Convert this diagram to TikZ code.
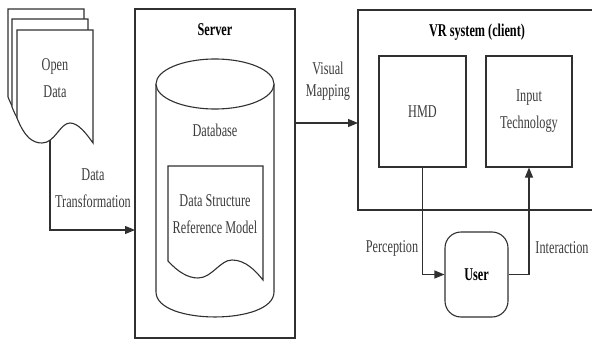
\documentclass[tikz,border=0pt]{standalone}
\usepackage{fontspec}
\setmainfont{Liberation Serif}[FakeStretch=0.68]
\usetikzlibrary{arrows.meta}
\definecolor{ink}{HTML}{303030}
\definecolor{txt}{HTML}{3C3C3C}
\begin{document}
\begin{tikzpicture}[x=1pt,y=-1pt,
  line/.style={draw=ink, line width=1.1pt},
  arr/.style={line, -{Triangle[length=10pt,width=8pt]}},
  lbl/.style={text=txt, font=\fontsize{18}{27}\selectfont, align=center, inner sep=0pt},
  ttl/.style={text=black, font=\fontsize{18}{27}\selectfont\bfseries, align=center, inner sep=0pt},
  box/.style={line, fill=white, inner sep=0pt, text=txt, font=\fontsize{18}{27}\selectfont, align=center}]
\useasboundingbox (0,0) rectangle (592,340);

% stack of open data sheets (back to front)
\foreach \dx/\dy in {-9/-21,-5/-11,0/0}{
  \path[line, fill=white, shift={(\dx,\dy)}]
    (17,30) -- (93,30) -- (93,143)
    .. controls (86,133) and (78,123) .. (70,123)
    .. controls (60,123) and (55,143) .. (42,143)
    .. controls (33,143) and (25,138) .. (17,118) -- cycle;
}
\node[lbl] (opendata) at (55,78) {Open\\Data};

% server frame
\node[box, minimum width=160pt, minimum height=329pt] (server) at (215,173.5) {};
\node[ttl] (servertitle) at (215,30) {Server};

% database cylinder
\draw[line, fill=white] (156,84) -- (156,292)
  .. controls (156,325.3) and (274,325.3) .. (274,292) -- (274,84);
\draw[line, fill=white] (215,84) ellipse [x radius=59, y radius=25];
\node[lbl] (database) at (215,130) {Database};

% reference model document
\path[line, fill=white]
  (168,166) -- (263,166) -- (263,280)
  .. controls (255,270) and (245,260) .. (232,260)
  .. controls (220,260) and (212,278) .. (198,278)
  .. controls (188,278) and (178,272) .. (168,261) -- cycle;
\node[lbl] (refmodel) at (215,214) {Data Structure\\Reference Model};

% data transformation arrow
\coordinate (odsrc) at (50,140);
\coordinate (dtin) at (135,230);
\draw[arr] (odsrc) |- (dtin);
\node[lbl] (dtlabel) at (93,188) {Data\\Transformation};

% VR system frame (runs off the right edge)
\draw[line] (592,10) -- (358,10) -- (358,210) -- (592,210);
\node[ttl] (vrtitle) at (477,32) {VR system (client)};
\coordinate (vrin) at (358,123);

% visual mapping arrow
\draw[arr] (server.east |- vrin) -- (vrin);
\node[lbl, font=\fontsize{18}{22}\selectfont] (vmlabel) at (328,81) {Visual\\Mapping};

% client components
\node[box, minimum width=87pt, minimum height=111pt] (hmd) at (422.5,111.5) {HMD};
\node[box, minimum width=86pt, minimum height=111pt] (input) at (529,111.5) {Input\\Technology};
\node[box, rounded corners=16pt, minimum width=63pt, minimum height=85pt,
      text=black, font=\fontsize{18}{27}\selectfont\bfseries] (user) at (476.5,274.5) {User};

% perception / interaction loop
\draw[arr] (hmd.south) |- (user.west);
\draw[arr] (user.east) -| (input.south);
\node[lbl] (perception) at (392,248) {Perception};
\node[lbl] (interaction) at (562,248) {Interaction};
\end{tikzpicture}
\end{document}
